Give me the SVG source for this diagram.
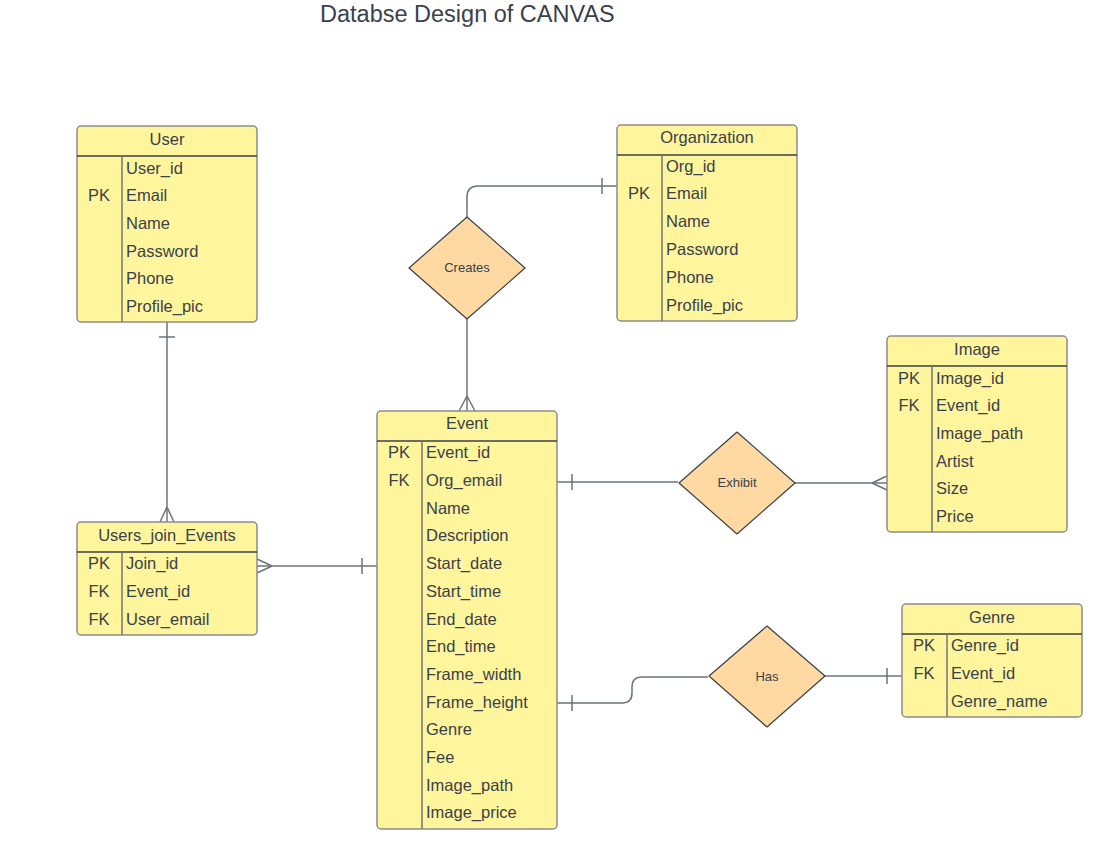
<svg xmlns="http://www.w3.org/2000/svg" width="1097" height="852" viewBox="0 0 1097 852">
<style>
.tbl{fill:#fff59d;stroke:#8c8c8c;stroke-width:1.5}
.hdr{stroke:#3a414a;stroke-width:1.5}
.div{stroke:#737373;stroke-width:1.5}
.t{font-family:"Liberation Sans",Arial,sans-serif;font-size:16.5px;fill:#3a414a}
.h{text-anchor:middle}
.k{text-anchor:middle}
.dia{fill:#ffd9a1;stroke:#3a414a;stroke-width:1.2;stroke-linejoin:round}
.dl{font-family:"Liberation Sans",Arial,sans-serif;font-size:13px;fill:#3a414a;text-anchor:middle}
.c{fill:none;stroke:#6c727c;stroke-width:1.5}
.title{font-family:"Liberation Sans",Arial,sans-serif;font-size:23.5px;fill:#3a414a}
</style>
<rect width="1097" height="852" fill="#ffffff"/>
<text class="title" x="320" y="22">Databse Design of CANVAS</text>

<g id="connectors">
  <path class="c" d="M617,186 H478 Q467,186 467,197 V217"/>
  <path class="c" d="M602,178 V194"/>
  <path class="c" d="M467,319 V411"/>
  <path class="c" d="M467,396 L459,411 M467,396 L475,411"/>
  <path class="c" d="M167,322 V522"/>
  <path class="c" d="M159,337 H175"/>
  <path class="c" d="M167,507 L160,522 M167,507 L174,522"/>
  <path class="c" d="M257,566 H377"/>
  <path class="c" d="M272,566 L257,559 M272,566 L257,573"/>
  <path class="c" d="M362,558 V574"/>
  <path class="c" d="M557,482 H678"/>
  <path class="c" d="M572,474 V490"/>
  <path class="c" d="M795,483 H887"/>
  <path class="c" d="M872,483 L887,476 M872,483 L887,490"/>
  <path class="c" d="M557,703 H622 Q632,703 632,693 V687 Q632,677 642,677 H708"/>
  <path class="c" d="M572,695 V711"/>
  <path class="c" d="M825,676 H902"/>
  <path class="c" d="M887,668 V684"/>
</g>

<g id="user">
  <rect class="tbl" x="77" y="126" width="180" height="196" rx="4"/>
  <line class="hdr" x1="77" y1="156" x2="257" y2="156"/>
  <line class="div" x1="122" y1="156" x2="122" y2="322"/>
  <text class="t h" x="167" y="145">User</text>
  <text class="t k" x="99" y="201">PK</text>
  <text class="t" x="126" y="174">User_id</text>
  <text class="t" x="126" y="201">Email</text>
  <text class="t" x="126" y="229">Name</text>
  <text class="t" x="126" y="257">Password</text>
  <text class="t" x="126" y="284">Phone</text>
  <text class="t" x="126" y="312">Profile_pic</text>
</g>

<g id="organization">
  <rect class="tbl" x="617" y="125" width="180" height="196" rx="4"/>
  <line class="hdr" x1="617" y1="155" x2="797" y2="155"/>
  <line class="div" x1="662" y1="155" x2="662" y2="321"/>
  <text class="t h" x="707" y="143">Organization</text>
  <text class="t k" x="639" y="199">PK</text>
  <text class="t" x="666" y="172">Org_id</text>
  <text class="t" x="666" y="199">Email</text>
  <text class="t" x="666" y="227">Name</text>
  <text class="t" x="666" y="255">Password</text>
  <text class="t" x="666" y="283">Phone</text>
  <text class="t" x="666" y="311">Profile_pic</text>
</g>

<g id="image">
  <rect class="tbl" x="887" y="336" width="180" height="196" rx="4"/>
  <line class="hdr" x1="887" y1="366" x2="1067" y2="366"/>
  <line class="div" x1="932" y1="366" x2="932" y2="532"/>
  <text class="t h" x="977" y="355">Image</text>
  <text class="t k" x="909" y="384">PK</text>
  <text class="t k" x="909" y="411">FK</text>
  <text class="t" x="936" y="384">Image_id</text>
  <text class="t" x="936" y="411">Event_id</text>
  <text class="t" x="936" y="439">Image_path</text>
  <text class="t" x="936" y="467">Artist</text>
  <text class="t" x="936" y="494">Size</text>
  <text class="t" x="936" y="522">Price</text>
</g>

<g id="users_join_events">
  <rect class="tbl" x="77" y="522" width="180" height="113" rx="4"/>
  <line class="hdr" x1="77" y1="552" x2="257" y2="552"/>
  <line class="div" x1="122" y1="552" x2="122" y2="635"/>
  <text class="t h" x="167" y="541">Users_join_Events</text>
  <text class="t k" x="99" y="569">PK</text>
  <text class="t k" x="99" y="597">FK</text>
  <text class="t k" x="99" y="625">FK</text>
  <text class="t" x="126" y="569">Join_id</text>
  <text class="t" x="126" y="597">Event_id</text>
  <text class="t" x="126" y="625">User_email</text>
</g>

<g id="event">
  <rect class="tbl" x="377" y="411" width="180" height="418" rx="4"/>
  <line class="hdr" x1="377" y1="441" x2="557" y2="441"/>
  <line class="div" x1="422" y1="441" x2="422" y2="829"/>
  <text class="t h" x="467" y="429">Event</text>
  <text class="t k" x="399" y="458">PK</text>
  <text class="t k" x="399" y="486">FK</text>
  <text class="t" x="426" y="458">Event_id</text>
  <text class="t" x="426" y="486">Org_email</text>
  <text class="t" x="426" y="514">Name</text>
  <text class="t" x="426" y="541">Description</text>
  <text class="t" x="426" y="569">Start_date</text>
  <text class="t" x="426" y="597">Start_time</text>
  <text class="t" x="426" y="625">End_date</text>
  <text class="t" x="426" y="652">End_time</text>
  <text class="t" x="426" y="680">Frame_width</text>
  <text class="t" x="426" y="708">Frame_height</text>
  <text class="t" x="426" y="735">Genre</text>
  <text class="t" x="426" y="763">Fee</text>
  <text class="t" x="426" y="791">Image_path</text>
  <text class="t" x="426" y="818">Image_price</text>
</g>

<g id="genre">
  <rect class="tbl" x="902" y="604" width="180" height="113" rx="4"/>
  <line class="hdr" x1="902" y1="634" x2="1082" y2="634"/>
  <line class="div" x1="947" y1="634" x2="947" y2="717"/>
  <text class="t h" x="992" y="623">Genre</text>
  <text class="t k" x="924" y="651">PK</text>
  <text class="t k" x="924" y="679">FK</text>
  <text class="t" x="951" y="651">Genre_id</text>
  <text class="t" x="951" y="679">Event_id</text>
  <text class="t" x="951" y="707">Genre_name</text>
</g>

<g id="creates">
  <path class="dia" d="M467,217 L525,268 L467,319 L409,268 Z"/>
  <text class="dl" x="467" y="272">Creates</text>
</g>
<g id="exhibit">
  <path class="dia" d="M737,432 L795,483 L737,534 L679,483 Z"/>
  <text class="dl" x="737" y="487">Exhibit</text>
</g>
<g id="has">
  <path class="dia" d="M767,626 L825,676 L767,727 L709,676 Z"/>
  <text class="dl" x="767" y="681">Has</text>
</g>
</svg>
